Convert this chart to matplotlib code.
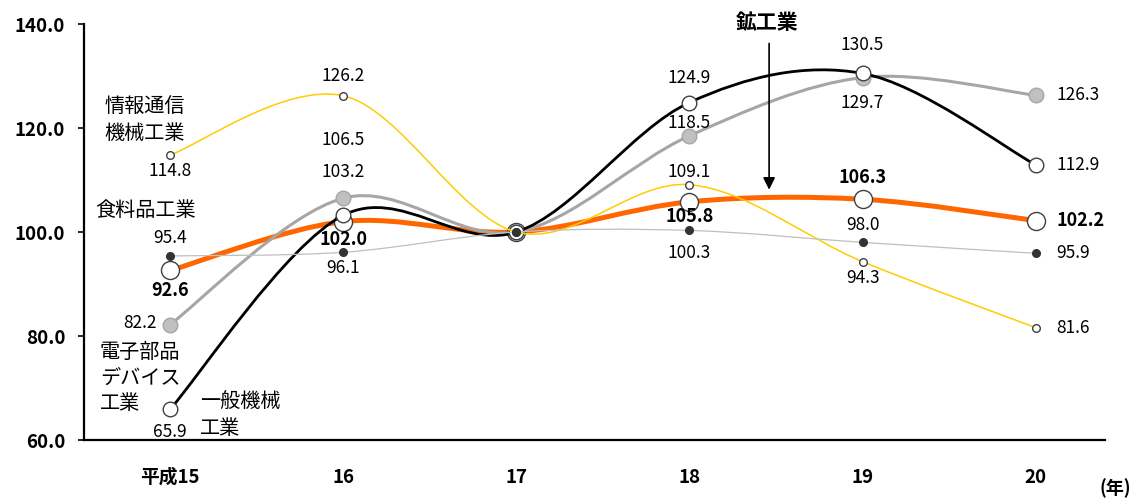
import matplotlib
matplotlib.use("Agg")
import matplotlib.pyplot as plt
from matplotlib.path import Path
from matplotlib.patches import PathPatch

plt.rcParams['font.family'] = ['Noto Sans CJK JP', 'DejaVu Sans']

# data (index, 平成17年 = 100)
years = ['平成15', '16', '17', '18', '19', '20']
kokogyo = [92.6, 102.0, 100.0, 105.8, 106.3, 102.2]        # 鉱工業
ippan = [65.9, 103.2, 100.0, 124.9, 130.5, 112.9]          # 一般機械工業
denshi = [82.2, 106.5, 100.0, 118.5, 129.7, 126.3]         # 電子部品デバイス工業
joho = [114.8, 126.2, 100.0, 109.1, 94.3, 81.6]            # 情報通信機械工業
shokuryo = [95.4, 96.1, 100.0, 100.3, 98.0, 95.9]          # 食料品工業

# label offsets in pixels (dx, dy), None = no label, 'r' = right of point
joho_off = [(0, -16), (0, 20), None, (0, 13), (0, -16), 'r']
shoku_off = [(0, 18), (0, -16), None, (0, -23), (0, 17), 'r']
koko_off = [(0, -20), (0, -18), None, (0, -15), (0, 22), 'r']
ippan_off = [(0, -23), (0, 43), None, (0, 25), (0, 28), 'r']
denshi_off = ['l', (0, 58), None, (0, 13), (0, -25), 'r']


def smooth(xs, ys):
    # catmull-rom style bezier, like excel's smoothed line
    n = len(xs)
    verts = [(xs[0], ys[0])]
    codes = [Path.MOVETO]
    for i in range(n - 1):
        p0 = max(i - 1, 0)
        p3 = min(i + 2, n - 1)
        c1 = (xs[i] + (xs[i + 1] - xs[p0]) / 6, ys[i] + (ys[i + 1] - ys[p0]) / 6)
        c2 = (xs[i + 1] - (xs[p3] - xs[i]) / 6, ys[i + 1] - (ys[p3] - ys[i]) / 6)
        verts += [c1, c2, (xs[i + 1], ys[i + 1])]
        codes += [Path.CURVE4] * 3
    return Path(verts, codes)


fig = plt.figure(figsize=(11.42, 4.98), dpi=100)
ax = fig.add_axes([84 / 1142, 58 / 498, (1105 - 84) / 1142, 416 / 498])
x = list(range(len(years)))

series = [
    # values, line color, lw, face, edge, msize, offsets, bold
    (kokogyo, '#FF6600', 3.6, 'white', '#404040', 13, koko_off, True),
    (denshi, '#A6A6A6', 2.2, '#C0C0C0', '#A6A6A6', 10.5, denshi_off, False),
    (ippan, 'black', 2.0, 'white', '#404040', 10.5, ippan_off, False),
    (joho, '#FFCC00', 1.1, 'white', '#404040', 5.5, joho_off, False),
    (shokuryo, '#BFBFBF', 0.9, '#333333', '#333333', 5.5, shoku_off, False),
]

z = 2
for vals, lc, lw, fc, ec, ms, offs, bold in series:
    ax.add_patch(PathPatch(smooth(x, vals), fill=False, edgecolor=lc, lw=lw,
                           zorder=z, capstyle='round'))
    ax.plot(x, vals, ls='none', marker='o', ms=ms, mfc=fc, mec=ec, mew=1.0,
            zorder=z + 0.5)
    z += 1
    for i, v in enumerate(vals):
        o = offs[i]
        if o is None:
            continue
        txt = f'{v:.1f}'
        fw = 'bold' if bold else 'normal'
        fs = 13 if bold else 12.5
        if o == 'r':
            ax.annotate(txt, (i, v), xytext=(21, 0), textcoords='offset pixels',
                        ha='left', va='center', fontsize=fs, fontweight=fw)
        elif o == 'l':
            ax.annotate(txt, (i, v), xytext=(-13, 2), textcoords='offset pixels',
                        ha='right', va='center', fontsize=fs, fontweight=fw)
        else:
            ax.annotate(txt, (i, v), xytext=o, textcoords='offset pixels',
                        ha='center', va='center', fontsize=fs, fontweight=fw,
                        zorder=10)

# series names
ax.text(-0.145, 121.5, '情報通信\n機械工業', ha='center', va='center',
        fontsize=14.5, linespacing=1.4)
ax.text(-0.14, 104.2, '食料品工業', ha='center', va='center', fontsize=14.5)
ax.text(-0.405, 71.9, '電子部品\nデバイス\n工業', ha='left', va='center',
        fontsize=14.5, linespacing=1.3)
ax.text(0.173, 64.8, '一般機械\n工業', ha='left', va='center',
        fontsize=14.5, linespacing=1.35)
ax.annotate('', xy=(3.46, 107.6), xytext=(3.46, 136.8),
            arrowprops=dict(arrowstyle='-|>', color='black', lw=1.2,
                            mutation_scale=18))
ax.text(3.45, 140.3, '鉱工業', ha='center', va='center', fontsize=15,
        fontweight='bold')

ax.set_xlim(-0.497, 5.40)
ax.set_ylim(60, 140)
ax.set_yticks([60, 80, 100, 120, 140])
ax.set_yticklabels([f'{t:.1f}' for t in [60, 80, 100, 120, 140]],
                   fontsize=13.5, fontweight='bold')
ax.set_xticks(x)
ax.set_xticklabels(years, fontsize=13.5, fontweight='bold')
ax.tick_params(axis='x', length=0, pad=20)
ax.tick_params(axis='y', length=4.5, width=1.2, direction='out', pad=9)
for s in ['top', 'right']:
    ax.spines[s].set_visible(False)
for s in ['left', 'bottom']:
    ax.spines[s].set_linewidth(1.6)
ax.set_clip_on(False)

fig.text(1115 / 1142, 1 - 488 / 498, '(年)', ha='center', va='center',
         fontsize=13, fontweight='bold')

fig.savefig('out.png', dpi=100)
